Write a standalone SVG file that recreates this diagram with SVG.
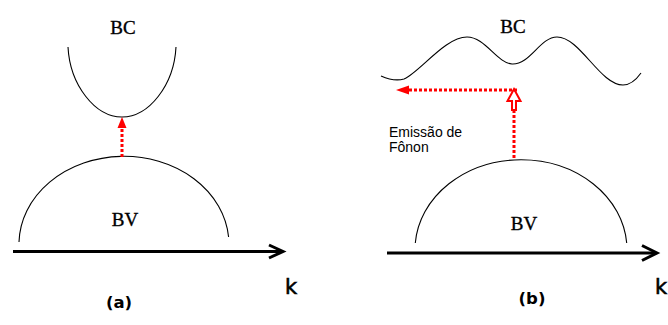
<svg xmlns="http://www.w3.org/2000/svg" width="668" height="325" viewBox="0 0 668 325">
<style>
.band{fill:none;stroke:#000;stroke-width:1.1}
.axis{fill:none;stroke:#000;stroke-width:3}
.lbl{font-family:"Liberation Serif",serif;font-size:19px;text-anchor:middle;fill:#000;stroke:#000;stroke-width:0.35}
.k{font-family:"DejaVu Sans",sans-serif;font-size:21px;fill:#000;stroke:#000;stroke-width:0.6}
.cap{font-family:"DejaVu Sans",sans-serif;font-weight:bold;font-size:16.5px;text-anchor:middle;fill:#000}
.note{font-family:"Liberation Sans",sans-serif;font-size:14px;fill:#000}
.red{fill:none;stroke:#f00;stroke-width:3;stroke-dasharray:3 2}
</style>
<rect width="668" height="325" fill="#fff"/>
<g id="panel-a">
  <g id="bc-a">
    <path class="band" d="M68,47 C70,85 95,117 122,117 C149,117 174,85 176,47"/>
    <text class="lbl" x="123" y="34">BC</text>
  </g>
  <g id="bv-a">
    <path class="band" d="M19,242 A105,88 0 0 1 228.6,237"/>
    <text class="lbl" x="125" y="226">BV</text>
  </g>
  <g id="axis-a">
    <path class="axis" d="M13,251.5 H281"/>
    <polyline class="axis" points="269,245 283,251.5 269,258"/>
    <text class="k" x="285" y="294">k</text>
  </g>
  <text class="cap" x="119" y="308">(a)</text>
</g>
<g id="panel-b">
  <g id="bc-b">
    <path class="band" d="M381,76 C390,80 397,81 404,79 C420,72 445,37 467,37 C485,37 497,63 512,64 C530,65 540,37 557,37 C580,37 600,85 623,85 C630,85 636,80 641,73"/>
    <text class="lbl" x="513" y="33">BC</text>
  </g>
  <g id="bv-b">
    <path class="band" d="M415.3,243 A106,90 0 0 1 626.7,243"/>
    <text class="lbl" x="524" y="230">BV</text>
  </g>
  <g id="axis-b">
    <path class="axis" d="M387,253 H655"/>
    <polyline class="axis" points="642,245.5 657,253 642,260.5"/>
    <text class="k" x="655" y="294">k</text>
  </g>
  <g id="note">
    <text class="note" x="389" y="137">Emissão de</text>
    <text class="note" x="389" y="152">Fônon</text>
  </g>
  <text class="cap" x="532" y="304">(b)</text>
</g>
<g id="connectors">
  <line class="red" x1="122" y1="157" x2="122" y2="127"/>
  <polygon points="122,117 126.5,128 117.5,128" fill="#f00"/>
  <line class="red" x1="514" y1="158" x2="514" y2="110"/>
  <polygon points="514,89 520.5,101 516,101 516,110 512,110 512,101 507.5,101" fill="#fff" stroke="#f00" stroke-width="2"/>
  <line class="red" x1="517" y1="90" x2="407" y2="90" stroke-width="3.5"/>
  <polygon points="396,90 409,85.5 409,94.5" fill="#f00"/>
</g>
</svg>
